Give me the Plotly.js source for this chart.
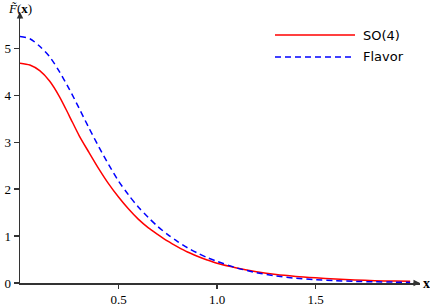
<!DOCTYPE html>
<html>
<head>
<meta charset="utf-8">
<script src="https://cdn.plot.ly/plotly-3.0.1.min.js"></script>
<style>html,body{margin:0;padding:0;background:#fff;}#chart{width:430px;height:306px;}</style>
</head>
<body>
<div id="chart"></div>
<script>
const xValues = [0, 0.05, 0.10, 0.15, 0.20, 0.25, 0.30, 0.35, 0.40, 0.45, 0.50, 0.55, 0.60, 0.65, 0.70, 0.75, 0.80, 0.85, 0.90, 0.95, 1.00, 1.10, 1.20, 1.30, 1.40, 1.50, 1.60, 1.70, 1.80, 1.90, 1.98];
const so4Values = [4.68, 4.64, 4.52, 4.30, 3.97, 3.56, 3.14, 2.78, 2.43, 2.11, 1.83, 1.58, 1.36, 1.18, 1.03, 0.89, 0.77, 0.66, 0.57, 0.49, 0.42, 0.32, 0.24, 0.18, 0.14, 0.11, 0.085, 0.065, 0.05, 0.04, 0.035];
const flavorValues = [5.25, 5.20, 5.04, 4.82, 4.50, 4.13, 3.72, 3.30, 2.90, 2.52, 2.17, 1.88, 1.62, 1.40, 1.20, 1.03, 0.88, 0.75, 0.64, 0.54, 0.46, 0.32, 0.22, 0.15, 0.10, 0.07, 0.05, 0.035, 0.025, 0.018, 0.013];
const seriesNames = ["SO(4)", "Flavor"];
const seriesColors = ["#ff0000", "#0000ff"];
const xTicks = [0.5, 1.0, 1.5];
const xTickLabels = ["0.5", "1.0", "1.5"];
const yTicks = [0, 1, 2, 3, 4, 5];
const yTickLabels = ["0", "1", "2", "3", "4", "5"];

const serif = "'Liberation Serif', 'DejaVu Serif', serif";
const sans = "'DejaVu Sans', 'Liberation Sans', sans-serif";

const traces = [
  {x: xValues, y: so4Values, name: seriesNames[0], mode: "lines", line: {color: seriesColors[0], width: 1.5, shape: "spline", smoothing: 0.8}},
  {x: xValues, y: flavorValues, name: seriesNames[1], mode: "lines", line: {color: seriesColors[1], width: 1.5, dash: "6px,4px", shape: "spline", smoothing: 0.8}}
];

const legendY = [0.915, 0.834];
const shapes = [];
const annotations = [];
for (let i = 0; i < seriesNames.length; i++) {
  shapes.push({type: "line", xref: "paper", yref: "paper", x0: 0.6375, x1: 0.8375, y0: legendY[i], y1: legendY[i],
    line: {color: seriesColors[i], width: 1.5, dash: i === 1 ? "6px,4px" : "solid"}});
  annotations.push({xref: "paper", yref: "paper", x: 0.853, y: legendY[i], xanchor: "left", yanchor: "middle",
    text: seriesNames[i], showarrow: false, font: {family: sans, size: 13, color: "#000"}});
}
// axis arrows
annotations.push({xref: "paper", yref: "paper", x: 1.0, y: 0, ax: -8, ay: 0, axref: "pixel", ayref: "pixel",
  text: "", showarrow: true, arrowhead: 2, arrowsize: 1, arrowwidth: 1.3, arrowcolor: "#333"});
annotations.push({xref: "paper", yref: "paper", x: 0, y: 1.0, ax: 0, ay: 8,
  text: "", showarrow: true, arrowhead: 2, arrowsize: 1, arrowwidth: 1.3, arrowcolor: "#333"});
// axis labels
annotations.push({xref: "paper", yref: "paper", x: 1.0, y: 0, xanchor: "left", yanchor: "middle", xshift: 1,
  text: "<b>x</b>", showarrow: false, font: {family: serif, size: 14, color: "#000"}});
annotations.push({xref: "paper", yref: "paper", x: 0, y: 1, xanchor: "center", yanchor: "bottom", xshift: 0, yshift: -6,
  text: "<i>F̃</i>(<b>x</b>)", showarrow: false, font: {family: serif, size: 13, color: "#000"}});

const layout = {
  width: 430, height: 306,
  margin: {l: 20, r: 10, t: 12, b: 23},
  paper_bgcolor: "#fff", plot_bgcolor: "#fff",
  showlegend: false,
  xaxis: {range: [0, 2.03], tickvals: xTicks, ticktext: xTickLabels, ticks: "outside", ticklen: 4, tickwidth: 1.2, tickcolor: "#333",
    showgrid: false, zeroline: false, showline: true, linecolor: "#333", linewidth: 1.5,
    tickfont: {family: serif, size: 13, color: "#000"}},
  yaxis: {range: [0, 5.77], tickvals: yTicks, ticktext: yTickLabels, ticks: "outside", ticklen: 5, tickwidth: 1.2, tickcolor: "#333",
    showgrid: false, zeroline: false, showline: true, linecolor: "#333", linewidth: 1.5,
    tickfont: {family: serif, size: 13, color: "#000"}},
  shapes: shapes,
  annotations: annotations
};
Plotly.newPlot("chart", traces, layout, {staticPlot: true, displayModeBar: false});
</script>
</body>
</html>
